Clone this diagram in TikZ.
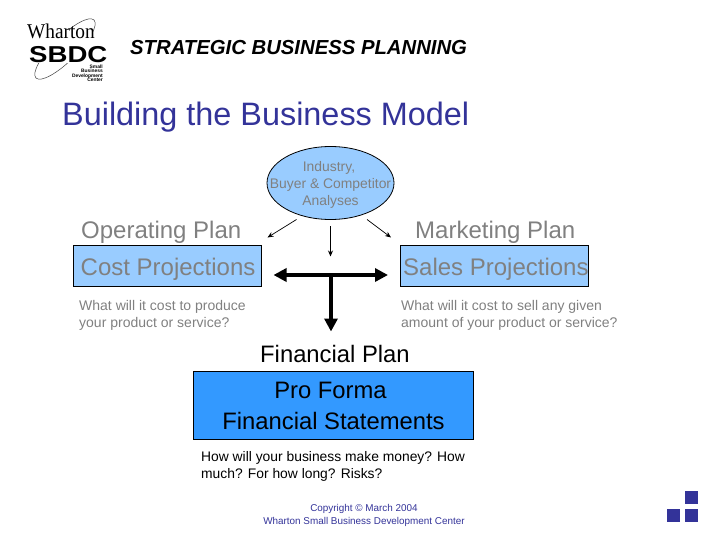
\documentclass[tikz,border=0pt]{standalone}
\usepackage{fontspec}
\setmainfont{Liberation Sans}
\newfontfamily\serifx[FakeStretch=0.92]{Liberation Serif}
\usetikzlibrary{shapes.geometric,arrows.meta}
\definecolor{navy}{HTML}{333399}
\definecolor{lblue}{HTML}{99CCFF}
\definecolor{sblue}{HTML}{3399FF}
\definecolor{gtxt}{HTML}{808080}
\tikzset{
 x=1pt,y=-1pt,
 lab/.style={inner sep=0pt,anchor=base,align=center},
 lw/.style={lab,anchor=base west},
 fsz/.style={font=\fontsize{#1}{#1}\selectfont},
 pbox/.style={draw=black,line width=0.9pt,fill=lblue,inner sep=0pt,anchor=north west},
 thin arrow/.style={line width=0.7pt,-{Stealth[length=6pt,width=5pt]}},
 thick arrow/.style={line width=3.4pt,-{Triangle[length=13pt,width=13pt]}},
 square/.style={fill=navy,inner sep=0pt,minimum size=13pt,anchor=north west},
 smalltxt/.style={lab,anchor=base east,font=\fontsize{4.9}{4.9}\selectfont\bfseries},
}
\begin{document}
\begin{tikzpicture}
\useasboundingbox (0,0) rectangle (728,546);
% logo
\draw[line width=0.5pt,black!75,rotate around={45:(65,49)}] (65,49) ellipse (41 and 12);
\fill[white] (27,29) rectangle (92,44);
\fill[white] (28,44) rectangle (105,63);
\node[lw,font=\fontsize{21}{21}\serifx] (wh) at (27,38) {Wharton};
\node[lw] (sb) at (29,62.5) {\fontsize{23}{23}\selectfont\bfseries\addfontfeature{FakeStretch=1.2}SBDC};
\node[smalltxt] (sm1) at (103,68.5) {Small};
\node[smalltxt] (sm2) at (103,72.8) {Business};
\node[smalltxt] (sm3) at (103,77) {Development};
\node[smalltxt] (sm4) at (103,81) {Center};
% heading
\node[lw,font=\fontsize{20.3}{20.3}\selectfont\bfseries\itshape] (hd) at (130,54) {STRATEGIC BUSINESS PLANNING};
\node[lw,text=navy,fsz=32.4] (tt) at (62,125) {Building the Business Model};
% ellipse
\node[ellipse,draw=black,line width=0.8pt,fill=lblue,inner sep=0pt,minimum width=127pt,minimum height=73pt] (el) at (330.5,183) {};
\node[lab,text=gtxt,fsz=13.9] (e1) at (329,171) {Industry,};
\node[lab,text=gtxt,fsz=13.9] (e2) at (330.5,188) {Buyer \& Competitor};
\node[lab,text=gtxt,fsz=13.9] (e3) at (330.5,205) {Analyses};
% plan boxes
\node[lw,text=gtxt,fsz=24] (op) at (81,238.5) {Operating Plan};
\node[lw,text=gtxt,fsz=24] (mp) at (415,238.5) {Marketing Plan};
\node[pbox,minimum width=188.5pt,minimum height=40.5pt] (cb) at (72.5,245) {};
\node[pbox,minimum width=188pt,minimum height=40.5pt] (sbx) at (400,245) {};
\node[lw,text=gtxt,fsz=24] (ct) at (80.5,275) {Cost Projections};
\node[lw,text=gtxt,fsz=24] (st) at (403,275) {Sales Projections};
\node[lw,text=gtxt,fsz=14] (cq1) at (79,310) {What will it cost to produce};
\node[lw,text=gtxt,fsz=14] (cq2) at (79,327) {your product or service?};
\node[lw,text=gtxt,fsz=14] (sq1) at (401,310) {What will it cost to sell any given};
\node[lw,text=gtxt,fsz=14] (sq2) at (401,327) {amount of your product or service?};
% connectors
\coordinate (a1) at (296.5,219.5); \coordinate (a2) at (267.5,237.5);
\coordinate (b1) at (367,219.5); \coordinate (b2) at (391,237.5);
\coordinate (c1) at (330.5,226); \coordinate (c2) at (330.5,256.5);
\draw[thin arrow] (a1) -- (a2);
\draw[thin arrow] (b1) -- (b2);
\draw[thin arrow] (c1) -- (c2);
\coordinate (j) at (331,275); \coordinate (jl) at (273.5,275); \coordinate (jr) at (388,275); \coordinate (jd) at (331,331.5);
\draw[thick arrow] (j) -- (jl);
\draw[thick arrow] (j) -- (jr);
\draw[thick arrow] (j) -- (jd);
% financial
\node[lw,fsz=23.8] (fp) at (260,362) {Financial Plan};
\node[draw=black,line width=0.9pt,fill=sblue,inner sep=0pt,anchor=north west,minimum width=280pt,minimum height=67.5pt] (fb) at (193,371) {};
\node[lab,fsz=23.8] (f1) at (330.5,398.5) {Pro Forma};
\node[lab,fsz=23.8] (f2) at (333.5,429) {Financial Statements};
\node[lw,fsz=13.85] (fq1) at (201,461) {How will your business make money? How};
\node[lw,fsz=13.85] (fq2) at (201,478) {much? For how long? Risks?};
% footer
\node[lab,text=navy,fsz=9.9] (c1t) at (364,511) {Copyright © March 2004};
\node[lab,text=navy,fsz=9.9] (c2t) at (364,524) {Wharton Small Business Development Center};
% squares
\node[square] (s1) at (685,491) {};
\node[square] (s2) at (667,509) {};
\node[square] (s3) at (685,509) {};
\end{tikzpicture}
\end{document}
